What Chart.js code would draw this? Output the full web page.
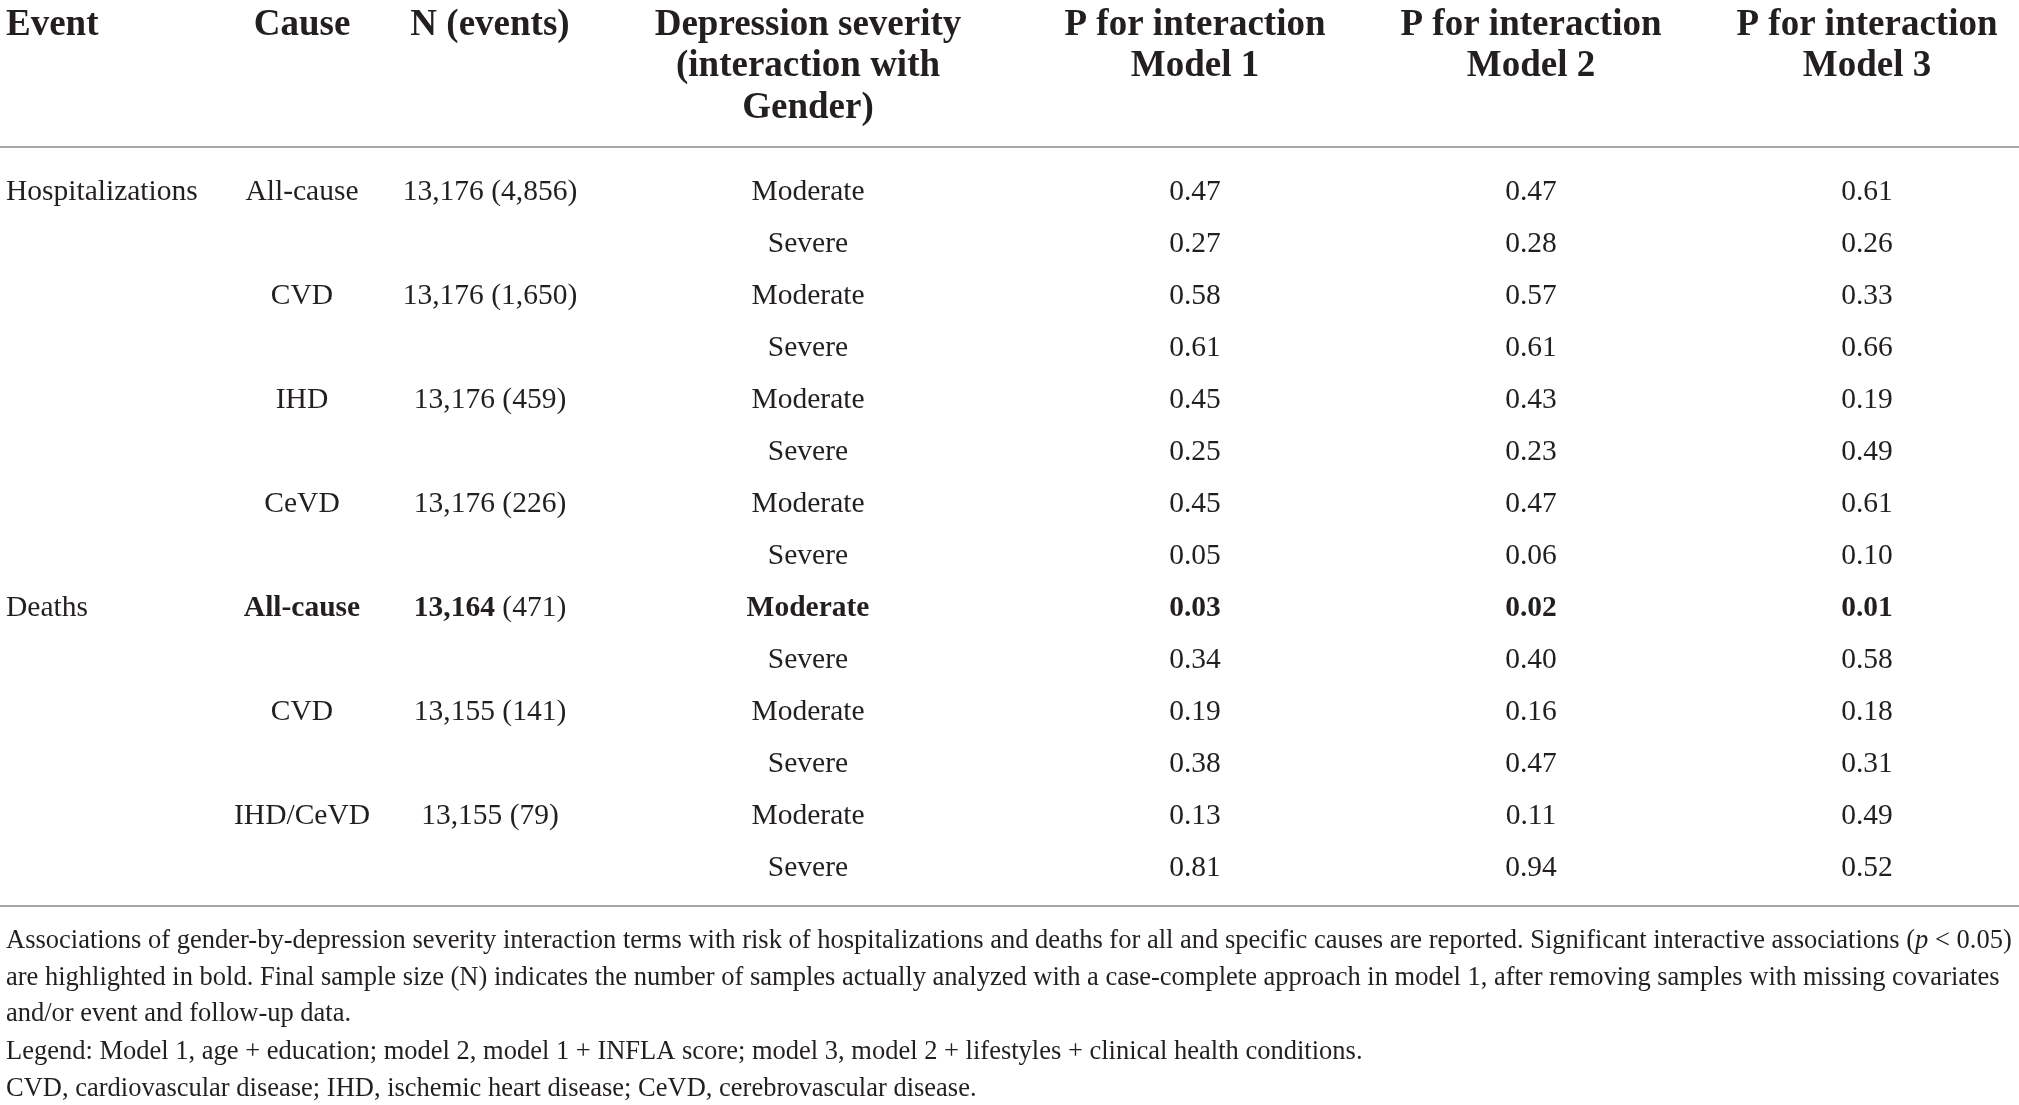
<!DOCTYPE html>
<html>
<head>
<meta charset="utf-8">
<script src="https://cdn.jsdelivr.net/npm/chart.js@4.4.1/dist/chart.umd.min.js"></script>
<style>
  html, body { margin: 0; padding: 0; background: #fff; }
  #wrap { width: 2019px; height: 1105px; position: relative; }
</style>
</head>
<body>
<div id="wrap"><canvas id="table"></canvas></div>
<script>
// Tabela de interação gênero x depressão, desenhada com Chart.js (scatter sem pontos + rótulos).

const HEADERS = [
  ["Event"],
  ["Cause"],
  ["N (events)"],
  ["Depression severity", "(interaction with", "Gender)"],
  ["P for interaction", "Model 1"],
  ["P for interaction", "Model 2"],
  ["P for interaction", "Model 3"],
];

const EVENTS = ["Hospitalizations", "", "", "", "", "", "", "", "Deaths", "", "", "", "", ""];
const CAUSES = ["All-cause", "", "CVD", "", "IHD", "", "CeVD", "", "All-cause", "", "CVD", "", "IHD/CeVD", ""];
const N_TOTAL = ["13,176", "", "13,176", "", "13,176", "", "13,176", "", "13,164", "", "13,155", "", "13,155", ""];
const N_EVENTS = ["4,856", "", "1,650", "", "459", "", "226", "", "471", "", "141", "", "79", ""];
const SEVERITY = ["Moderate", "Severe", "Moderate", "Severe", "Moderate", "Severe", "Moderate", "Severe",
                  "Moderate", "Severe", "Moderate", "Severe", "Moderate", "Severe"];
const P_MODEL1 = [0.47, 0.27, 0.58, 0.61, 0.45, 0.25, 0.45, 0.05, 0.03, 0.34, 0.19, 0.38, 0.13, 0.81];
const P_MODEL2 = [0.47, 0.28, 0.57, 0.61, 0.43, 0.23, 0.47, 0.06, 0.02, 0.40, 0.16, 0.47, 0.11, 0.94];
const P_MODEL3 = [0.61, 0.26, 0.33, 0.66, 0.19, 0.49, 0.61, 0.10, 0.01, 0.58, 0.18, 0.31, 0.49, 0.52];
const BOLD_ROWS = [8]; // p < 0.05

const FOOTNOTES = [
  [["Associations of gender-by-depression severity interaction terms with risk of hospitalizations and deaths for all and specific causes are reported. Significant interactive associations (", ""], ["p", "italic"], [" < 0.05)", ""]],
  [["are highlighted in bold. Final sample size (N) indicates the number of samples actually analyzed with a case-complete approach in model 1, after removing samples with missing covariates", ""]],
  [["and/or event and follow-up data.", ""]],
  [["Legend: Model 1, age + education; model 2, model 1 + INFLA score; model 3, model 2 + lifestyles + clinical health conditions.", ""]],
  [["CVD, cardiovascular disease; IHD, ischemic heart disease; CeVD, cerebrovascular disease.", ""]],
];

// ---- layout ----
const COL_X = [6, 302, 490, 808, 1195, 1531, 1867];
const COL_ALIGN = ["left", "center", "center", "center", "center", "center", "center"];
const FONT = '"Liberation Serif", "DejaVu Serif", serif';
const INK = "#231f20";
const RULE = "#a7a7a7";
const BODY_PX = 29.5;
const HEAD_PX = 37;
const NOTE_PX = 26.5;

const fmtP = (v) => v.toFixed(2);

// cada célula vira um segmento (ou lista de segmentos [texto, bold])
function cellsFor(col, i) {
  const bold = BOLD_ROWS.includes(i);
  switch (col) {
    case 0: return [[EVENTS[i], false]];
    case 1: return [[CAUSES[i], bold]];
    case 2: return N_TOTAL[i] ? [[N_TOTAL[i], bold], [" (" + N_EVENTS[i] + ")", false]] : [["", false]];
    case 3: return [[SEVERITY[i], bold]];
    case 4: return [[fmtP(P_MODEL1[i]), bold]];
    case 5: return [[fmtP(P_MODEL2[i]), bold]];
    case 6: return [[fmtP(P_MODEL3[i]), bold]];
  }
}

const rows = SEVERITY.map((_, i) => i);

const datasets = HEADERS.map((_, c) => ({
  label: HEADERS[c].join(" "),
  data: rows.map((i) => ({ x: COL_X[c], y: i, segs: cellsFor(c, i) })),
  pointRadius: 0,
  pointHoverRadius: 0,
}));

function drawSegs(ctx, segs, x, y, align, px) {
  const parts = segs.map(([t, style]) => {
    const weight = style === true ? "bold " : "";
    const ital = style === "italic" ? "italic " : "";
    const font = `${ital}${weight}${px}px ${FONT}`;
    ctx.font = font;
    return { t, font, w: ctx.measureText(t).width };
  });
  const total = parts.reduce((s, p) => s + p.w, 0);
  let cx = align === "left" ? x : x - total / 2;
  ctx.textAlign = "left";
  parts.forEach((p) => {
    ctx.font = p.font;
    ctx.fillText(p.t, cx, y);
    cx += p.w;
  });
}

const tablePlugin = {
  id: "tableText",
  afterDatasetsDraw(chart) {
    const { ctx, chartArea } = chart;
    ctx.save();
    ctx.fillStyle = INK;
    ctx.textBaseline = "middle";

    // corpo da tabela
    chart.data.datasets.forEach((ds, c) => {
      chart.getDatasetMeta(c).data.forEach((pt, i) => {
        drawSegs(ctx, ds.data[i].segs, pt.x, pt.y, COL_ALIGN[c], BODY_PX);
      });
    });

    // cabeçalho
    const xs = chart.scales.x;
    HEADERS.forEach((lines, c) => {
      lines.forEach((line, k) => {
        drawSegs(ctx, [[line, true]], xs.getPixelForValue(COL_X[c]), chartArea.top - 141 + k * 41.5, COL_ALIGN[c], HEAD_PX);
      });
    });

    // linhas horizontais
    ctx.strokeStyle = RULE;
    ctx.lineWidth = 2;
    [chartArea.top - 19, chartArea.bottom + 12].forEach((y) => {
      ctx.beginPath();
      ctx.moveTo(0, y);
      ctx.lineTo(chart.width, y);
      ctx.stroke();
    });

    // notas de rodapé
    const noteY = [47, 84, 120, 158, 195];
    FOOTNOTES.forEach((segs, k) => {
      drawSegs(ctx, segs, 6, chartArea.bottom + noteY[k], "left", NOTE_PX);
    });
    ctx.restore();
  },
};

new Chart(document.getElementById("table"), {
  type: "scatter",
  data: { datasets },
  options: {
    responsive: true,
    maintainAspectRatio: false,
    animation: false,
    devicePixelRatio: 1,
    layout: { padding: { top: 166, bottom: 211, left: 0, right: 0 } },
    plugins: { legend: { display: false }, tooltip: { enabled: false } },
    scales: {
      x: { type: "linear", min: 0, max: 2019, display: false },
      y: { type: "linear", min: -0.5, max: 13.5, reverse: true, display: false },
    },
  },
  plugins: [tablePlugin],
});
</script>
</body>
</html>
